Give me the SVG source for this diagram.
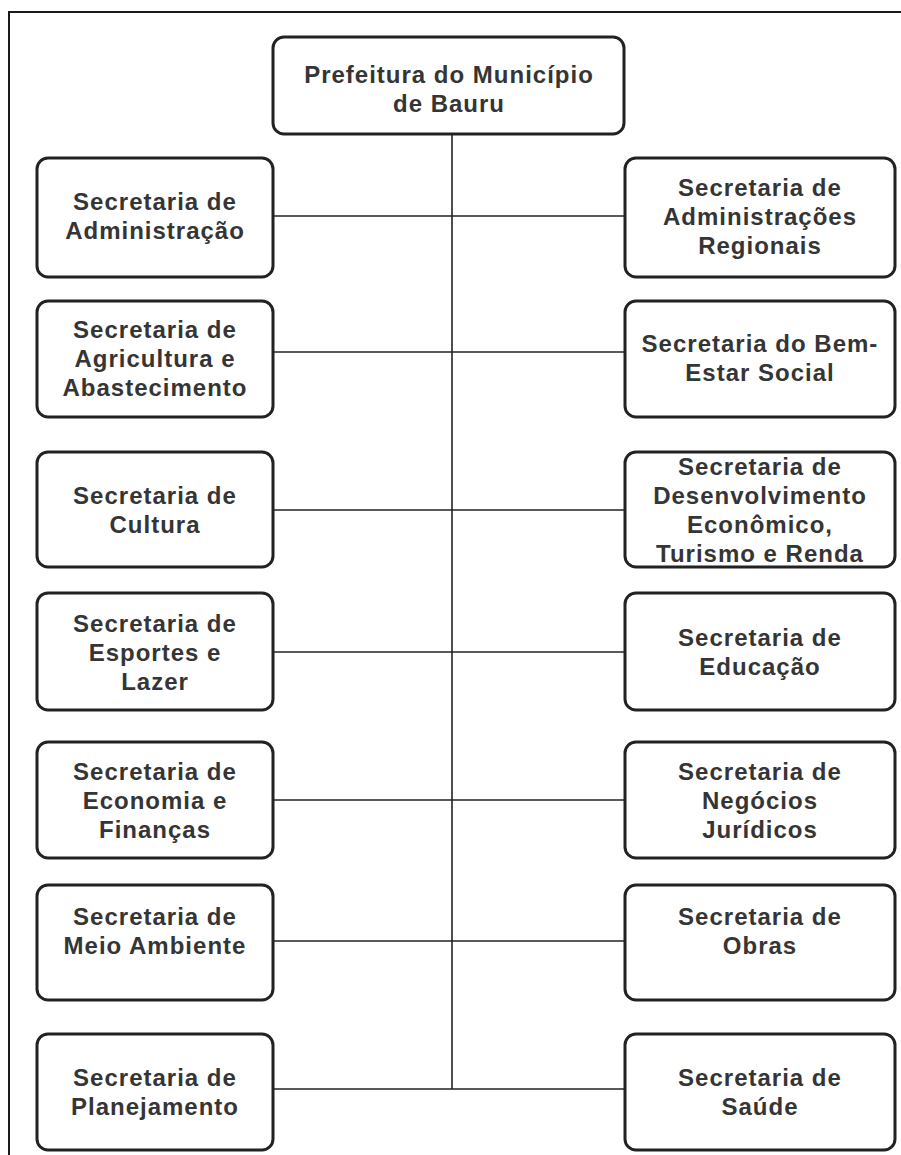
<svg xmlns="http://www.w3.org/2000/svg" width="901" height="1155" viewBox="0 0 901 1155">
<style>
.box{fill:#fff;stroke:#222;stroke-width:3}
.ln{stroke:#222;stroke-width:1.6;fill:none}
.frame{stroke:#1a1a1a;stroke-width:2;fill:none}
text{font-family:"Liberation Sans",Arial,sans-serif;font-weight:bold;font-size:24px;letter-spacing:1px;fill:#353535;text-anchor:middle}
</style>
<rect width="901" height="1155" fill="#fff"/>
<path class="frame" d="M9 1155 V12 H901"/>
<g id="connectors">
<line class="ln" x1="452" y1="134" x2="452" y2="1089"/>
<line class="ln" x1="273" y1="216" x2="625" y2="216"/>
<line class="ln" x1="273" y1="352" x2="625" y2="352"/>
<line class="ln" x1="273" y1="510" x2="625" y2="510"/>
<line class="ln" x1="273" y1="652" x2="625" y2="652"/>
<line class="ln" x1="273" y1="800" x2="625" y2="800"/>
<line class="ln" x1="273" y1="941" x2="625" y2="941"/>
<line class="ln" x1="273" y1="1089" x2="625" y2="1089"/>
</g>
<g id="prefeitura">
<rect class="box" x="273" y="37" width="351" height="97" rx="11"/>
<text x="449" y="83">Prefeitura do Município</text>
<text x="449" y="112">de Bauru</text>
</g>
<g id="sec-administracao">
<rect class="box" x="37" y="158" width="236" height="119" rx="11"/>
<text x="155" y="210">Secretaria de</text>
<text x="155" y="239">Administração</text>
</g>
<g id="sec-adm-regionais">
<rect class="box" x="625" y="158" width="270" height="119" rx="11"/>
<text x="760" y="196">Secretaria de</text>
<text x="760" y="225">Administrações</text>
<text x="760" y="254">Regionais</text>
</g>
<g id="sec-agricultura">
<rect class="box" x="37" y="301" width="236" height="116" rx="11"/>
<text x="155" y="338">Secretaria de</text>
<text x="155" y="367">Agricultura e</text>
<text x="155" y="396">Abastecimento</text>
</g>
<g id="sec-bem-estar">
<rect class="box" x="625" y="301" width="270" height="116" rx="11"/>
<text x="760" y="352">Secretaria do Bem-</text>
<text x="760" y="381">Estar Social</text>
</g>
<g id="sec-cultura">
<rect class="box" x="37" y="452" width="236" height="115" rx="11"/>
<text x="155" y="504">Secretaria de</text>
<text x="155" y="533">Cultura</text>
</g>
<g id="sec-desenvolvimento">
<rect class="box" x="625" y="452" width="270" height="115" rx="11"/>
<text x="760" y="475">Secretaria de</text>
<text x="760" y="504">Desenvolvimento</text>
<text x="760" y="533">Econômico,</text>
<text x="760" y="562">Turismo e Renda</text>
</g>
<g id="sec-esportes">
<rect class="box" x="37" y="593" width="236" height="117" rx="11"/>
<text x="155" y="632">Secretaria de</text>
<text x="155" y="661">Esportes e</text>
<text x="155" y="690">Lazer</text>
</g>
<g id="sec-educacao">
<rect class="box" x="625" y="593" width="270" height="117" rx="11"/>
<text x="760" y="646">Secretaria de</text>
<text x="760" y="675">Educação</text>
</g>
<g id="sec-economia">
<rect class="box" x="37" y="742" width="236" height="116" rx="11"/>
<text x="155" y="780">Secretaria de</text>
<text x="155" y="809">Economia e</text>
<text x="155" y="838">Finanças</text>
</g>
<g id="sec-negocios">
<rect class="box" x="625" y="742" width="270" height="116" rx="11"/>
<text x="760" y="780">Secretaria de</text>
<text x="760" y="809">Negócios</text>
<text x="760" y="838">Jurídicos</text>
</g>
<g id="sec-meio-ambiente">
<rect class="box" x="37" y="885" width="236" height="115" rx="11"/>
<text x="155" y="925">Secretaria de</text>
<text x="155" y="954">Meio Ambiente</text>
</g>
<g id="sec-obras">
<rect class="box" x="625" y="885" width="270" height="115" rx="11"/>
<text x="760" y="925">Secretaria de</text>
<text x="760" y="954">Obras</text>
</g>
<g id="sec-planejamento">
<rect class="box" x="37" y="1034" width="236" height="116" rx="11"/>
<text x="155" y="1086">Secretaria de</text>
<text x="155" y="1115">Planejamento</text>
</g>
<g id="sec-saude">
<rect class="box" x="625" y="1034" width="270" height="116" rx="11"/>
<text x="760" y="1086">Secretaria de</text>
<text x="760" y="1115">Saúde</text>
</g>
</svg>
